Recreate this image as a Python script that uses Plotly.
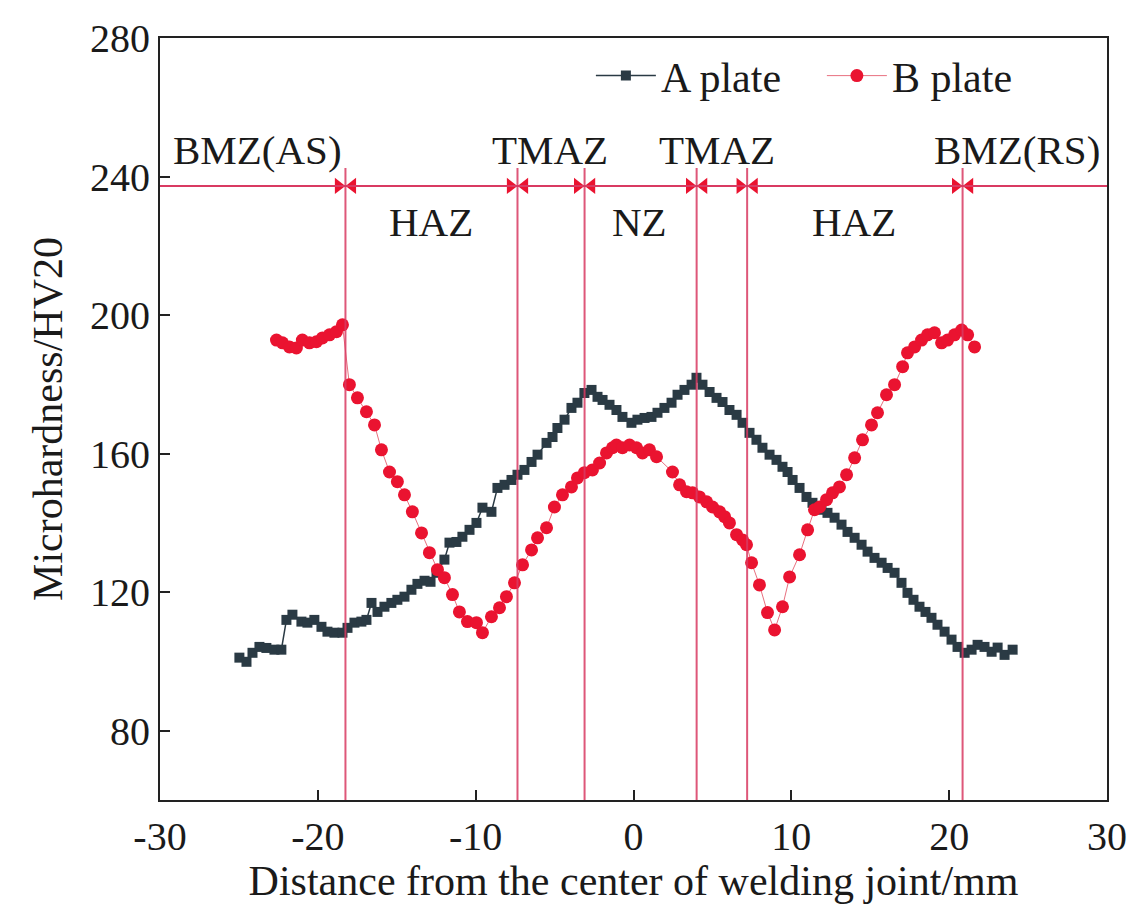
import plotly.graph_objects as go

# ---- data ----
a_x = [-24.97, -24.52, -24.14, -23.70, -23.26, -22.75, -22.31, -21.99, -21.61, -21.04,
       -20.66, -20.22, -19.77, -19.39, -18.95, -18.44, -18.12, -17.68, -17.24, -16.92,
       -16.60, -16.22, -15.78, -15.34, -14.96, -14.51,
       -14.07, -13.69, -13.24, -12.86, -12.48, -11.98, -11.66, -11.22, -10.84, -10.39,
       -9.95, -9.57, -9.00, -8.62, -8.17, -7.73, -7.35, -6.91, -6.46, -6.08,
       -5.51, -5.13, -4.82, -4.37, -3.93, -3.55, -3.11, -2.66, -2.28, -1.96,
       -1.52, -1.08, -0.70, -0.13, 0.25, 0.70, 1.14, 1.52, 1.96, 2.41,
       2.79, 3.23, 3.68, 3.99, 4.37, 4.82, 5.26, 5.64, 6.08, 6.53,
       6.91, 7.35, 7.79, 8.17, 8.62, 9.06, 9.44, 9.76, 10.08, 10.52,
       10.96, 11.34, 11.91, 12.29, 12.74, 13.18, 13.56, 14.01, 14.45, 14.83,
       15.27, 15.72, 16.10, 16.54, 16.98, 17.36, 17.74, 18.12, 18.50, 18.88,
       19.26, 19.71, 20.15, 20.53, 20.98, 21.42, 21.80, 22.24, 22.69, 23.07,
       23.51, 24.02]
a_y = [101.1, 99.9, 102.5, 104.2, 103.9, 103.4, 103.4, 112.0, 113.5, 111.5,
       111.2, 112.0, 110.0, 108.6, 108.3, 108.3, 109.7, 111.2, 111.5, 112.0,
       116.9, 114.3, 115.8, 116.9, 117.8, 118.7,
       120.7, 122.4, 123.3, 123.0, 125.6, 129.4, 134.3, 134.5, 136.0, 138.0,
       140.0, 144.4, 143.2, 150.1, 151.0, 152.4, 153.9, 155.3, 157.6, 159.7,
       163.1, 164.8, 167.4, 169.8, 173.2, 174.7, 177.5, 178.4, 176.4, 175.5,
       174.1, 172.6, 170.6, 168.9, 169.8, 170.3, 170.6, 171.8, 173.2, 174.7,
       177.0, 178.4, 179.9, 181.9, 179.9, 177.8, 176.1, 174.9, 172.6, 171.2,
       168.9, 166.0, 164.0, 161.7, 159.7, 158.2, 156.2, 154.7, 152.4, 150.1,
       147.5, 145.8, 143.8, 142.9, 141.5, 139.5, 137.4, 135.7, 133.7, 131.7,
       129.9, 128.5, 127.0, 125.6, 122.7, 119.8, 117.8, 115.8, 114.3, 112.6,
       110.6, 108.6, 106.3, 104.2, 102.5, 103.4, 104.8, 104.2, 102.8, 104.0,
       101.9, 103.4]

b_x = [-22.62, -22.24, -21.80, -21.36, -20.98, -20.53, -20.09, -19.71, -19.26, -18.82,
       -18.44, -18.00, -17.49, -16.92, -16.41, -15.97, -15.46, -14.96, -14.51, -14.01,
       -13.43, -12.93, -12.42, -11.98, -11.47, -11.03, -10.52, -9.95, -9.57, -9.00,
       -8.49, -8.05, -7.54, -7.03, -6.46, -6.08, -5.51, -5.01, -4.50, -3.93,
       -3.55, -3.11, -2.60, -2.15, -1.71, -1.33, -1.08, -0.70, -0.25, 0.19,
       0.57, 1.01, 1.46, 2.47, 2.92, 3.36, 3.74, 4.18, 4.63, 5.01,
       5.45, 5.77, 6.08, 6.53, 6.91, 7.16, 7.48, 7.98, 8.49, 8.94,
       9.44, 9.89, 10.52, 11.03, 11.47, 11.79, 12.23, 12.61, 13.05, 13.50,
       14.01, 14.51, 15.08, 15.46, 16.03, 16.54, 17.05, 17.36, 17.81, 18.25,
       18.63, 19.07, 19.52, 19.90, 20.34, 20.79, 21.17, 21.61]
b_y = [192.8, 192.0, 190.8, 190.5, 192.8, 192.0, 192.3, 193.4, 194.3, 195.2,
       197.2, 179.9, 176.1, 172.1, 168.3, 161.1, 154.7, 151.9, 148.1, 143.2,
       137.1, 131.4, 126.5, 124.2, 119.3, 114.3, 111.5, 111.2, 108.3, 112.9,
       115.5, 118.7, 122.7, 127.9, 132.2, 135.7, 138.6, 144.6, 148.1, 150.4,
       153.0, 154.5, 155.3, 157.3, 160.2, 161.7, 162.5, 161.7, 162.5, 161.7,
       160.2, 161.1, 159.1, 154.7, 151.0, 149.0, 148.7, 147.5, 146.1, 144.6,
       143.2, 141.8, 140.0, 136.6, 135.1, 133.7, 128.5, 122.1, 114.1, 109.1,
       115.8, 124.4, 130.8, 138.0, 143.8, 144.6, 146.7, 148.7, 150.4, 153.9,
       158.8, 164.0, 168.3, 171.8, 177.0, 179.9, 185.1, 189.1, 190.8, 192.8,
       194.3, 194.9, 192.0, 192.8, 194.3, 195.7, 194.3, 190.8]

zone_bounds = [-18.25, -7.35, -3.1, 4.0, 7.2, 20.85]
zone_line_y = 237.3
zone_labels = ["BMZ(AS)", "HAZ", "TMAZ", "NZ", "TMAZ", "HAZ", "BMZ(RS)"]
zone_label_x = [-23.8, -12.8, -5.3, 0.4, 5.26, 14.0, 24.3]
zone_label_y = [247.7, 226.9, 247.7, 226.9, 247.7, 226.9, 247.7]

x_ticks = [-30, -20, -10, 0, 10, 20, 30]
y_ticks = [80, 120, 160, 200, 240, 280]

FONT = "Liberation Serif"
A_COL = "#2a3a44"
B_COL = "#ea1330"
ZONE_COL = "#d93a62"

fig = go.Figure()
fig.add_trace(go.Scatter(
    x=a_x, y=a_y, name="A plate", mode="lines+markers",
    line=dict(color=A_COL, width=1.5),
    marker=dict(symbol="square", size=10, color=A_COL)))
fig.add_trace(go.Scatter(
    x=b_x, y=b_y, name="B plate", mode="lines+markers",
    line=dict(color="#e8707f", width=1),
    marker=dict(symbol="circle", size=13, color=B_COL)))

# arrowheads converging on each zone boundary
d = 0.45
fig.add_trace(go.Scatter(
    x=[b - d for b in zone_bounds], y=[zone_line_y] * len(zone_bounds),
    mode="markers", showlegend=False, hoverinfo="skip",
    marker=dict(symbol="triangle-right", size=14, color=B_COL)))
fig.add_trace(go.Scatter(
    x=[b + d for b in zone_bounds], y=[zone_line_y] * len(zone_bounds),
    mode="markers", showlegend=False, hoverinfo="skip",
    marker=dict(symbol="triangle-left", size=14, color=B_COL)))

shapes = [dict(type="line", xref="x", yref="y", x0=-30, x1=30,
               y0=zone_line_y, y1=zone_line_y,
               line=dict(color=ZONE_COL, width=2), layer="above")]
for b in zone_bounds:
    shapes.append(dict(type="line", xref="x", yref="y", x0=b, x1=b,
                       y0=60, y1=242.5, line=dict(color=ZONE_COL, width=2),
                       layer="above", opacity=0.85))

annotations = [dict(x=x, y=y, text=t, showarrow=False, xref="x", yref="y",
                    font=dict(family=FONT, size=41, color="#1a1a1a"))
               for t, x, y in zip(zone_labels, zone_label_x, zone_label_y)]

fig.update_layout(
    width=1132, height=904,
    margin=dict(l=160, r=25, t=38, b=104, autoexpand=False),
    paper_bgcolor="white", plot_bgcolor="white",
    shapes=shapes, annotations=annotations,
    font=dict(family=FONT, size=40, color="#1a1a1a"),
    legend=dict(orientation="h", x=0.455, y=0.995, xanchor="left", yanchor="top",
                bgcolor="rgba(0,0,0,0)", font=dict(family=FONT, size=42),
                itemwidth=60, entrywidth=156, entrywidthmode="pixels"),
    showlegend=True,
)
fig.update_xaxes(range=[-30, 30], tickvals=x_ticks, ticktext=[str(v) for v in x_ticks],
                 showgrid=False, zeroline=False, showline=True, linecolor="#222",
                 linewidth=2, mirror=True, ticks="inside", ticklen=10, tickwidth=2,
                 tickcolor="#222", tickfont=dict(family=FONT, size=40),
                 title=dict(text="Distance from the center of welding joint/mm",
                            font=dict(family=FONT, size=42), standoff=0))
fig.update_yaxes(range=[60, 280], tickvals=y_ticks, ticktext=[str(v) for v in y_ticks],
                 showgrid=False, zeroline=False, showline=True, linecolor="#222",
                 linewidth=2, mirror=True, ticks="inside", ticklen=10, tickwidth=2,
                 tickcolor="#222", tickfont=dict(family=FONT, size=40),
                 title=dict(text="Microhardness/HV20",
                            font=dict(family=FONT, size=42), standoff=14))

fig.write_html("out.html")
